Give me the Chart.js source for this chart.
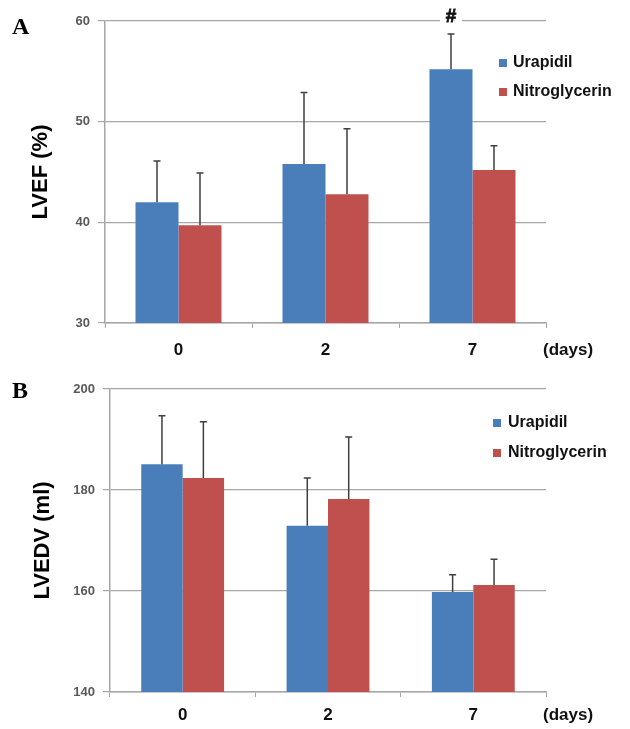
<!DOCTYPE html>
<html>
<head>
<meta charset="utf-8">
<script src="https://cdn.jsdelivr.net/npm/chart.js@4.4.1/dist/chart.umd.min.js"></script>
<style>
  body { margin: 0; background: #fff; }
  canvas { position: absolute; left: 0; }
</style>
</head>
<body>
<canvas id="lvef" width="630" height="365" style="top:0"></canvas>
<canvas id="lvedv" width="630" height="364" style="top:365px"></canvas>
<script>
const days = ['0', '2', '7']
const seriesNames = ['Urapidil', 'Nitroglycerin']
const seriesColors = ['#4a7ebb', '#c0504d']

// panel A, LVEF (%)
const lvefUrapidil = [42.0, 45.8, 55.2]
const lvefUrapidilErr = [4.1, 7.1, 3.5]
const lvefNitro = [39.7, 42.8, 45.2]
const lvefNitroErr = [5.2, 6.5, 2.4]
const lvefMarks = ['', '', '#']
const lvefTicks = [30, 40, 50, 60]

// panel B, LVEDV (ml)
const lvedvUrapidil = [185.1, 172.9, 159.8]
const lvedvUrapidilErr = [9.6, 9.5, 3.4]
const lvedvNitro = [182.4, 178.2, 161.2]
const lvedvNitroErr = [11.1, 12.3, 5.1]
const lvedvTicks = [140, 160, 180, 200]

const GRID = '#a6a6a6'
const SANS = "'Liberation Sans', Arial, sans-serif"

// error bars, # marks, legend, panel letter, "(days)"
const extras = {
  id: 'extras',
  afterDatasetsDraw(chart, args, opts) {
    const ctx = chart.ctx
    const ys = chart.scales.y
    const xs = chart.scales.x
    const area = chart.chartArea
    ctx.save()
    chart.data.datasets.forEach((ds, i) => {
      const meta = chart.getDatasetMeta(i)
      meta.data.forEach((bar, j) => {
        const top = ys.getPixelForValue(ds.data[j] + ds.errors[j])
        ctx.strokeStyle = '#3f3f3f'
        ctx.lineWidth = 1.5
        ctx.beginPath()
        ctx.moveTo(bar.x, bar.y)
        ctx.lineTo(bar.x, top)
        ctx.moveTo(bar.x - 3.5, top)
        ctx.lineTo(bar.x + 3.5, top)
        ctx.stroke()
        const mark = ds.marks && ds.marks[j]
        if (mark) {
          const gy = ys.getPixelForValue(ys.max)
          ctx.fillStyle = '#fff'
          ctx.fillRect(bar.x - 11, gy - 3, 22, 6)
          ctx.fillStyle = '#111'
          ctx.strokeStyle = '#111'
          ctx.lineWidth = 0.8
          ctx.font = 'bold 19px ' + SANS
          ctx.textAlign = 'center'
          ctx.textBaseline = 'middle'
          ctx.fillText(mark, bar.x, gy - 4)
          ctx.strokeText(mark, bar.x, gy - 4)
        }
      })
    })

    // legend
    chart.data.datasets.forEach((ds, i) => {
      const bx = area.right + opts.legendDx
      const by = area.top + opts.legendDy + i * opts.legendGap
      ctx.fillStyle = ds.backgroundColor
      ctx.fillRect(bx, by - 4, 8, 8)
      ctx.fillStyle = '#111'
      ctx.font = 'bold 16px ' + SANS
      ctx.textAlign = 'left'
      ctx.textBaseline = 'middle'
      ctx.fillText(ds.label, bx + opts.legendText, by)
    })

    // panel letter
    ctx.fillStyle = '#000'
    ctx.font = "bold 24px 'Liberation Serif', 'Times New Roman', serif"
    ctx.textAlign = 'left'
    ctx.textBaseline = 'middle'
    ctx.fillText(opts.letter, 12, opts.letterY)

    // unit after the last category
    const xo = chart.options.scales.x
    ctx.font = 'bold 17px ' + SANS
    ctx.fillStyle = '#111'
    ctx.fillText('(days)', area.right - 3,
      xs.top + xo.grid.tickLength + xo.ticks.padding + xo.ticks.font.size * 0.6)
    ctx.restore()
  }
}

function makeChart(id, cfg) {
  return new Chart(document.getElementById(id), {
    type: 'bar',
    data: {
      labels: days,
      datasets: [{
        label: seriesNames[0],
        data: cfg.a,
        errors: cfg.aErr,
        marks: cfg.marks,
        backgroundColor: seriesColors[0],
        categoryPercentage: cfg.catPct,
        barPercentage: 1
      }, {
        label: seriesNames[1],
        data: cfg.b,
        errors: cfg.bErr,
        backgroundColor: seriesColors[1],
        categoryPercentage: cfg.catPct,
        barPercentage: 1
      }]
    },
    options: {
      responsive: false,
      animation: false,
      devicePixelRatio: 1,
      layout: { padding: { left: 0, top: cfg.top, right: 84, bottom: 0 } },
      plugins: {
        legend: { display: false },
        tooltip: { enabled: false },
        extras: cfg.extras
      },
      scales: {
        x: {
          grid: { drawOnChartArea: false, drawTicks: true, tickLength: 5, color: GRID, offset: true },
          border: { color: GRID, width: 1.5 },
          ticks: { color: '#111', padding: cfg.xPad, font: { family: SANS, size: 17, weight: 'bold' } },
          afterFit(s) { s.height = cfg.xHeight }
        },
        y: {
          min: cfg.ticks[0],
          max: cfg.ticks[cfg.ticks.length - 1],
          afterBuildTicks(s) { s.ticks = cfg.ticks.map(v => ({ value: v })) },
          grid: { color: GRID, lineWidth: 1.2, tickLength: 7 },
          border: { color: GRID, width: 1.5 },
          ticks: { color: '#595959', padding: 8, font: { family: SANS, size: 13, weight: 'bold' } },
          title: {
            display: true,
            text: cfg.title,
            color: '#000',
            font: { family: SANS, size: 22, weight: 'bold' },
            padding: { top: cfg.titlePad, bottom: 0 }
          },
          afterFit(s) { s.width = cfg.yWidth }
        }
      }
    },
    plugins: [extras]
  })
}

makeChart('lvef', {
  a: lvefUrapidil, aErr: lvefUrapidilErr,
  b: lvefNitro, bErr: lvefNitroErr,
  marks: lvefMarks, ticks: lvefTicks,
  title: 'LVEF (%)', titlePad: 28,
  top: 21, yWidth: 105, xHeight: 42, xPad: 12, catPct: 0.585,
  extras: { letter: 'A', letterY: 28, legendDx: -47, legendDy: 42, legendGap: 29, legendText: 14 }
})

makeChart('lvedv', {
  a: lvedvUrapidil, aErr: lvedvUrapidilErr,
  b: lvedvNitro, bErr: lvedvNitroErr,
  marks: null, ticks: lvedvTicks,
  title: 'LVEDV (ml)', titlePad: 30,
  top: 24, yWidth: 110, xHeight: 37, xPad: 8, catPct: 0.57,
  extras: { letter: 'B', letterY: 27, legendDx: -53, legendDy: 34, legendGap: 30, legendText: 15 }
})
</script>
</body>
</html>
